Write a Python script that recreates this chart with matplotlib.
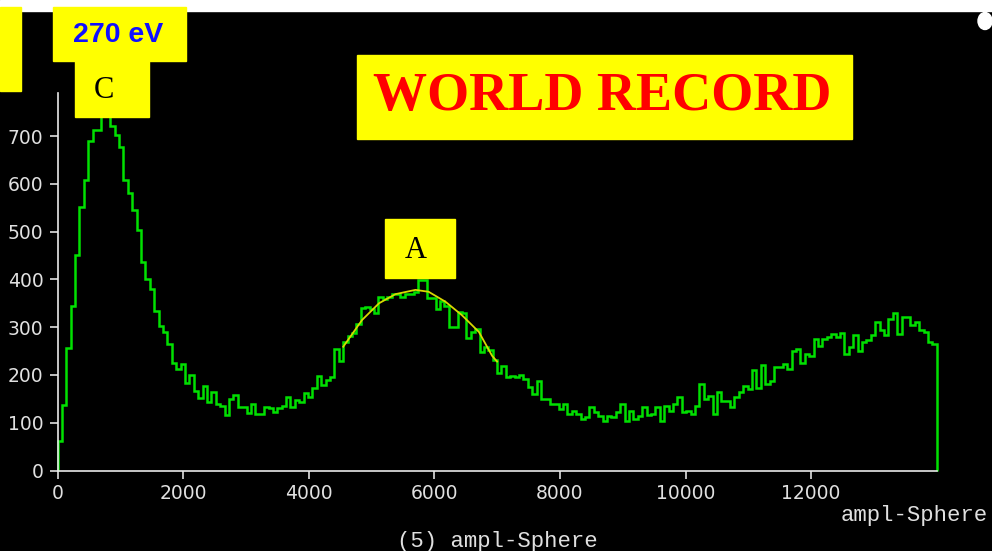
import numpy as np
import matplotlib
matplotlib.use("Agg")
import matplotlib.pyplot as plt
from matplotlib.patches import Rectangle, Ellipse

bin_edges = np.linspace(0, 14000, 201)
counts = [
    61, 137, 257, 345, 450, 552, 607, 689, 713, 713,
    765, 775, 720, 702, 678, 607, 580, 545, 503, 437,
    401, 380, 334, 303, 289, 264, 225, 213, 222, 184,
    200, 166, 151, 176, 144, 165, 139, 136, 116, 150,
    158, 133, 133, 121, 140, 118, 118, 133, 131, 122,
    131, 134, 154, 132, 148, 144, 162, 154, 173, 197,
    179, 190, 195, 255, 230, 268, 282, 288, 306, 340,
    343, 339, 330, 364, 358, 364, 369, 370, 364, 370,
    370, 374, 398, 398, 360, 360, 339, 355, 344, 301,
    301, 331, 329, 277, 290, 296, 249, 258, 252, 231,
    203, 219, 196, 198, 195, 199, 192, 174, 160, 188,
    150, 150, 139, 139, 128, 139, 118, 125, 118, 108,
    111, 132, 123, 115, 104, 114, 111, 122, 139, 104,
    125, 107, 115, 132, 116, 118, 132, 104, 136, 125,
    139, 153, 122, 125, 118, 136, 181, 150, 156, 118,
    164, 146, 146, 132, 153, 164, 177, 171, 210, 172,
    220, 181, 188, 216, 216, 223, 212, 251, 254, 226,
    244, 240, 275, 261, 275, 279, 286, 280, 287, 244,
    259, 283, 251, 268, 273, 283, 310, 293, 283, 317,
    329, 286, 322, 322, 304, 310, 293, 289, 268, 265,
]

# fitted curve under peak A
fit_x = [4550, 4850, 5120, 5380, 5700, 5910, 6180, 6440, 6710, 6920, 7000]
fit_y = [259, 315, 350, 369, 378, 374, 353, 325, 290, 240, 228]

yticks = [0, 100, 200, 300, 400, 500, 600, 700]
xticks = [0, 2000, 4000, 6000, 8000, 10000, 12000]

W, H = 992, 551
fig = plt.figure(figsize=(W / 100, H / 100), dpi=100, facecolor="black")


def fx(x):
    return x / W


def fy(y):
    return 1 - y / H


# plot area in pixels: x 57.5..936.7, y 93..470.5
ax = fig.add_axes([fx(57.5), fy(470.5), fx(936.7 - 57.5), (470.5 - 93) / H])
ax.set_facecolor("black")
ax.stairs(counts, bin_edges, color="#00e000", lw=1.8, baseline=0, clip_on=False)
ax.plot(fit_x, fit_y, color="#d8d800", lw=1.3)

ax.set_xlim(0, 14000)
ax.set_ylim(0, 790)
ax.set_xticks(xticks)
ax.set_yticks(yticks)
for s in ["top", "right"]:
    ax.spines[s].set_visible(False)
for s in ["left", "bottom"]:
    ax.spines[s].set_color("#e8e8e8")
    ax.spines[s].set_linewidth(1.2)
ax.tick_params(colors="#e0e0e0", length=6, width=1.2, labelsize=13.5)
ax.tick_params(axis="x", pad=4)
ax.tick_params(axis="y", pad=4)

# axis captions
fig.text(fx(988), fy(515), "ampl-Sphere", color="#e0e0e0", fontsize=16,
         family="Liberation Mono", ha="right", va="center")
fig.text(fx(497), fy(542), "(5) ampl-Sphere", color="#e0e0e0", fontsize=16,
         family="Liberation Mono", ha="center", va="center")

# white strip at the top of the screen shot and the logo
fig.add_artist(Rectangle((0, fy(11)), 1, 11 / H, transform=fig.transFigure,
                         color="white", zorder=5))
fig.add_artist(Ellipse((fx(985), fy(21)), 14 / W, 17 / H, transform=fig.transFigure,
                       color="white", zorder=5))


def box(x0, y0, x1, y1):
    fig.add_artist(Rectangle((fx(x0), fy(y1)), (x1 - x0) / W, (y1 - y0) / H,
                             transform=fig.transFigure, color="#ffff00", zorder=6))


# yellow labels
box(0, 7, 21, 91)
box(53, 7, 186, 61)
box(75, 61, 149, 117)
box(357, 55, 852, 139)
box(385, 219, 455, 278)

fig.text(fx(118), fy(35), "270 eV", color="#1010ff", fontsize=20.5, weight="bold",
         family="Liberation Sans", ha="center", va="center", zorder=7)
fig.text(fx(104), fy(91), "C", color="black", fontsize=22,
         family="Liberation Serif", ha="center", va="center", zorder=7)
fig.text(fx(416), fy(251), "A", color="black", fontsize=22,
         family="Liberation Serif", ha="center", va="center", zorder=7)
fig.text(fx(602), fy(97), "WORLD RECORD", color="#ff0000", fontsize=39, weight="bold",
         family="Liberation Serif", ha="center", va="center", zorder=7)

fig.savefig("out.png", dpi=100, facecolor="black")
